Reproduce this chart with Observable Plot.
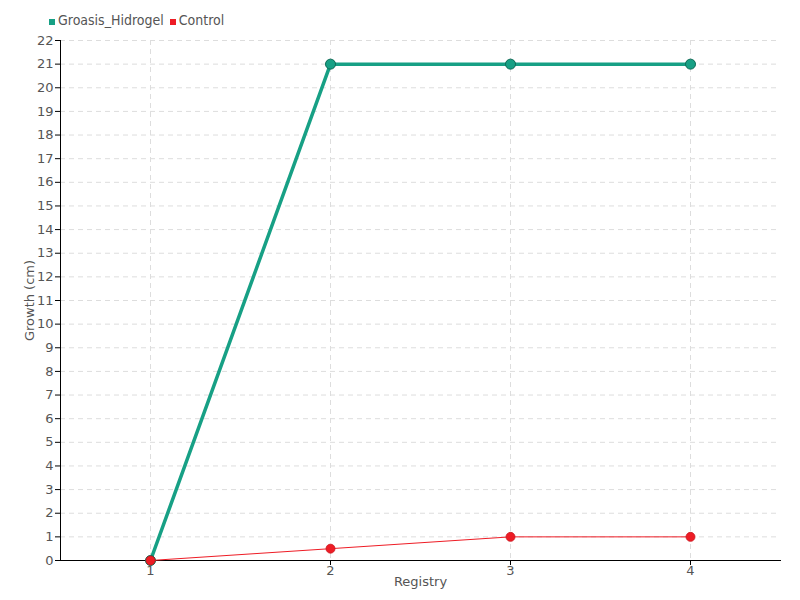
<!DOCTYPE html>
<html>
<head>
<meta charset="utf-8">
<script src="https://cdn.jsdelivr.net/npm/d3@7"></script>
<script src="https://cdn.jsdelivr.net/npm/@observablehq/plot@0.6"></script>
<style>
  body { margin: 0; background: white; }
  #wrap { position: relative; width: 800px; height: 600px; font-family: "DejaVu Sans", sans-serif; }
  #legend { position: absolute; left: 49px; top: 12px; font-size: 14px; color: #555; display: flex; align-items: baseline; font-stretch: condensed; }
  #legend .sw { display: inline-block; width: 6px; height: 6px; margin-right: 3px; }
  #legend .item { margin-right: 6px; }
</style>
</head>
<body>
<div id="wrap">
  <div id="legend"></div>
  <div id="chart"></div>
</div>
<script>
const registry = ["1", "2", "3", "4"];
const seriesNames = ["Groasis_Hidrogel", "Control"];
const seriesColors = ["#17a085", "#ee1c25"];
const groasisValues = [0, 21, 21, 21];
const controlValues = [0, 0.5, 1, 1];
const yTicks = d3.range(0, 23);

const groasis = registry.map((r, i) => ({registry: r, value: groasisValues[i]}));
const control = registry.map((r, i) => ({registry: r, value: controlValues[i]}));

const legend = document.getElementById("legend");
seriesNames.forEach((name, i) => {
  const item = document.createElement("span");
  item.className = "item";
  item.innerHTML = `<span class="sw" style="background:${seriesColors[i]}"></span>${name}`;
  legend.appendChild(item);
});

const chart = Plot.plot({
  width: 800,
  height: 600,
  marginTop: 40,
  marginBottom: 40,
  marginLeft: 60,
  marginRight: 20,
  style: {fontFamily: "'DejaVu Sans', sans-serif", fontSize: "12px", color: "#555", background: "white"},
  x: {type: "point", domain: registry, padding: 0.5, label: "Registry"},
  y: {domain: [0, 22], label: "Growth (cm)"},
  marks: [
    Plot.gridY(yTicks, {stroke: "#ddd", strokeOpacity: 1, strokeDasharray: "5,4"}),
    Plot.gridX(registry, {stroke: "#ddd", strokeOpacity: 1, strokeDasharray: "5,4"}),
    Plot.axisY(yTicks, {tickSize: 5, tickPadding: 2, stroke: "black", tickFormat: d => d, fill: "#555", fontSize: 13, label: "Growth (cm)", labelAnchor: "center", labelArrow: "none", labelOffset: 36}),
    Plot.axisX(registry, {tickSize: 5, tickPadding: 0, stroke: "black", fill: "#555", fontSize: 13, label: "Registry", labelAnchor: "center", labelArrow: "none", labelOffset: 25}),
    Plot.frame({anchor: "left", stroke: "black"}),
    Plot.frame({anchor: "bottom", stroke: "black"}),
    Plot.line(groasis, {x: "registry", y: "value", stroke: seriesColors[0], strokeWidth: 3.5}),
    Plot.dot(groasis, {x: "registry", y: "value", r: 5, fill: seriesColors[0], stroke: "#0d6b56", strokeWidth: 1}),
    Plot.line(control, {x: "registry", y: "value", stroke: seriesColors[1], strokeWidth: 1}),
    Plot.dot(control, {x: "registry", y: "value", r: 4.5, fill: seriesColors[1], stroke: "#c8141c", strokeWidth: 0.8})
  ]
});
document.getElementById("chart").appendChild(chart);
</script>
</body>
</html>
